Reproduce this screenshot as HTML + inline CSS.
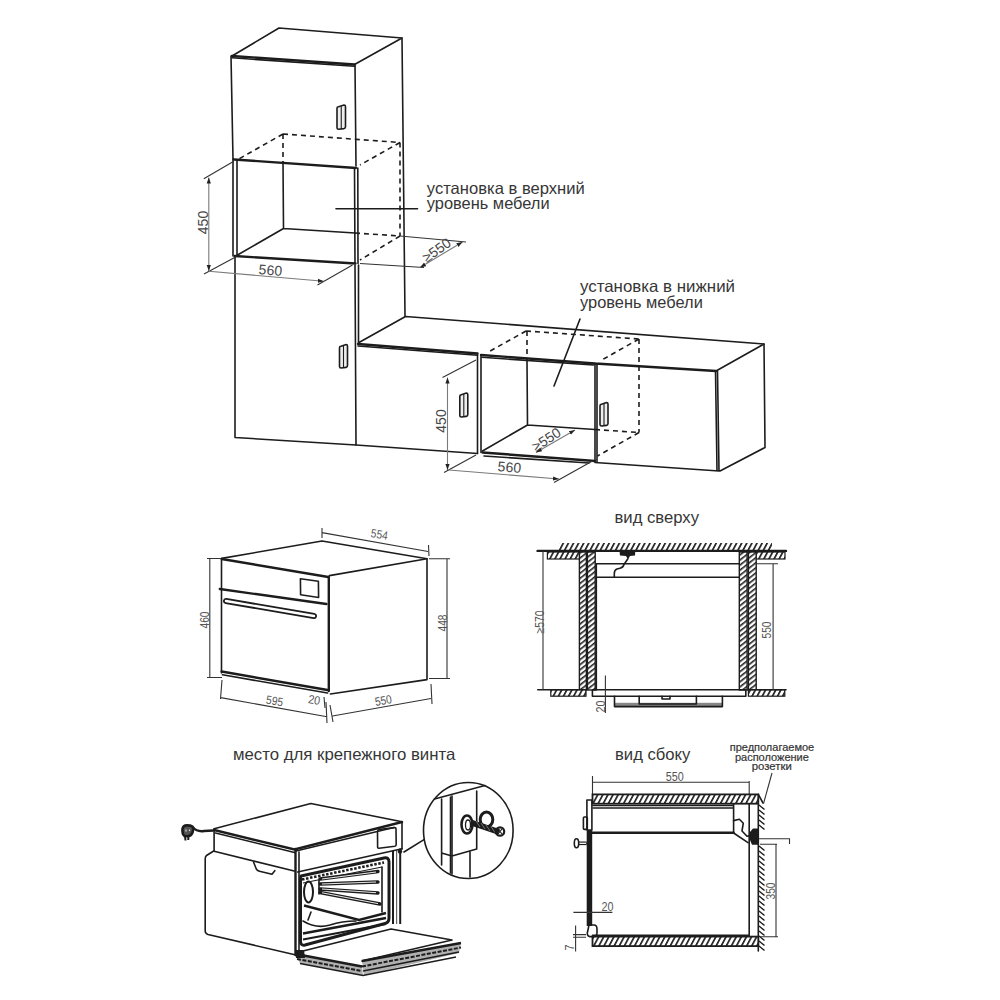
<!DOCTYPE html>
<html><head><meta charset="utf-8">
<style>
html,body{margin:0;padding:0;background:#fff;width:1000px;height:1000px;overflow:hidden}
svg{display:block}
text{font-family:"Liberation Sans",sans-serif;fill:#363636}
.l{stroke:#1c1c1c;stroke-width:1.6;fill:none;stroke-linecap:round;stroke-linejoin:round}
.t{stroke:#1c1c1c;stroke-width:2.4;fill:none;stroke-linecap:round}
.d{stroke:#1c1c1c;stroke-width:1.6;fill:none;stroke-dasharray:5 4}
.m{stroke:#333;stroke-width:1.1;fill:none}
.g{stroke:#7a7a7a;stroke-width:1.1}
.dim{font-size:14px;fill:#474747}
.sd{font-size:12px;fill:#555}
</style></head>
<body>
<svg width="1000" height="1000" viewBox="0 0 1000 1000">
<defs>
<marker id="ar" viewBox="0 0 10 10" refX="10" refY="5" markerWidth="6" markerHeight="6" orient="auto-start-reverse" markerUnits="userSpaceOnUse"><path d="M0,1.5 L10,5 L0,8.5z" fill="#222"/></marker>
<pattern id="hat" patternUnits="userSpaceOnUse" width="4.5" height="10" patternTransform="rotate(28)"><rect width="4.5" height="10" fill="#fff"/><rect width="1.7" height="10" fill="#222"/></pattern><pattern id="hatv" patternUnits="userSpaceOnUse" width="4.0" height="10" patternTransform="rotate(52)"><rect width="4" height="10" fill="#fff"/><rect width="1.6" height="10" fill="#222"/></pattern>
</defs>
<rect width="1000" height="1000" fill="#fff"/>

<!-- ================= TOP: tall cabinet ================= -->
<g id="top">
<!-- upper box top face -->
<path class="l" d="M232,56 L279,28 L402,38 L354.5,64.5"/>
<path class="t" d="M232,56 L354.5,64.5"/>
<path class="l" d="M231,56 L233,159"/>
<path class="l" d="M355,64.5 L356,166" stroke-width="3.6" stroke-linecap="butt"/>
<path class="l" d="M232,57.8 L354.5,66.3" stroke-width="1.4"/>
<path class="l" d="M402,38 L405,316"/>
<path class="t" d="M234,159.5 L356,168"/>
<path d="M338.5,106.8 L344.0,105 Q345.5,105 345.5,106.5 L345.5,126.69999999999999 Q345.5,128.2 344.0,128.6 L338.5,129.2 Q337,129.2 337,127.69999999999999 L337,108.3 Q337,106.8 338.5,106.8 Z" fill="#eee" stroke="#1c1c1c" stroke-width="1.6"/><path d="M341.25,106.2 L341.25,128.89999999999998" stroke="#1c1c1c" stroke-width="1.1"/>
<!-- niche -->
<path class="l" d="M233,159 L233,256 M237,160 L237,255"/>
<path class="l" d="M354.5,168 L355,263.5 M357.8,168 L358,263.5"/>
<path class="d" d="M283,134 L283,162 M283,134 L400,142.5 M283,134 L237,160 M400,142.5 L360,165 M400,142.5 L400,236 M355,233 L400,236 M400,236 L360,260"/>
<path class="l" d="M283,162 L283.5,228.5 L355,233 M283.5,228.5 L237.5,255"/>
<path class="t" d="M234.5,256 L355.5,263.5"/>
<!-- tall lower -->
<path class="l" d="M235,256 L235,437.5 L356,445 L355,265 M358.5,265 L358.5,343"/>
<path d="M341.0,346.3 L346.0,344.5 Q347.5,344.5 347.5,346.0 L347.5,365.5 Q347.5,367 346.0,367.4 L341.0,368 Q339.5,368 339.5,366.5 L339.5,347.8 Q339.5,346.3 341.0,346.3 Z" fill="#eee" stroke="#1c1c1c" stroke-width="1.6"/><path d="M343.5,345.7 L343.5,367.7" stroke="#1c1c1c" stroke-width="1.1"/>
<!-- counter -->
<path class="l" d="M359,342.5 L405.5,316.5 L764,344 L716,371"/>
<path class="t" d="M358,344 L477.5,353.5 M481,355 L595,363.5 M595,363.5 L716,371"/>
<path class="l" d="M358,346 L477.5,355.3" stroke-width="1.4"/>
<path class="l" d="M356,445 L477.5,453.5"/>
<path class="l" d="M482,357.3 L593.5,365" stroke-width="1.3"/>
<path class="l" d="M477.5,354 L477.5,453.5 M481,355 L481,452.5"/>
<path d="M461.3,394.8 L466.3,393 Q467.8,393 467.8,394.5 L467.8,414.5 Q467.8,416 466.3,416.4 L461.3,417 Q459.8,417 459.8,415.5 L459.8,396.3 Q459.8,394.8 461.3,394.8 Z" fill="#eee" stroke="#1c1c1c" stroke-width="1.6"/><path d="M463.8,394.2 L463.8,416.7" stroke="#1c1c1c" stroke-width="1.1"/>
<path class="t" d="M482.5,452.5 L595,461"/>
<path class="l" d="M484,456 L589,463" stroke-width="1.3"/>
<path class="l" d="M595,363.5 L595,462.5 L719,471 L717.5,371 M764,344 L765,447.5 L720,471 M597,364 L597,462 M715.5,371 L717,470.5"/>
<path d="M601.5,404.3 L606.5,402.5 Q608,402.5 608,404.0 L608,423.5 Q608,425 606.5,425.4 L601.5,426 Q600,426 600,424.5 L600,405.8 Q600,404.3 601.5,404.3 Z" fill="#eee" stroke="#1c1c1c" stroke-width="1.6"/><path d="M604.0,403.7 L604.0,425.7" stroke="#1c1c1c" stroke-width="1.1"/>
<!-- lower niche -->
<path class="d" d="M527,331 L527,361 M526,331 L639,339 M526,331 L487.5,352.5 M639,339 L600,361 M639,339 L639,432.5 M639,432.5 L597.5,456 M595,429.5 L639,432.5"/>
<path class="l" d="M527,361 L527.5,425 L595,429.5 M527.5,425 L482.5,451"/>
<!-- leaders -->
<path class="l" d="M336,208.8 L417.5,208.8"/>
<path class="l" d="M580,319 L554,386"/>
<!-- dims upper -->
<path class="m" d="M203.8,178.8 L233.8,161.3 M204,274 L236.5,256.5 M317.5,285 L352.5,265 M360,263.5 L424,267.5 M400,236 L466,242"/>
<path class="m g" marker-start="url(#ar)" marker-end="url(#ar)" d="M208.8,177.5 L208.8,271"/>
<path class="m g" marker-end="url(#ar)" d="M208.8,271.3 L323.8,281.3"/>
<path class="m g" marker-start="url(#ar)" marker-end="url(#ar)" d="M420,267.5 L462.5,242"/>
<text class="dim" transform="translate(207.5,222.5) rotate(-90)" text-anchor="middle">450</text>
<text class="dim" transform="translate(270,275) rotate(5)" text-anchor="middle">560</text>
<text class="dim" transform="translate(439.5,254) rotate(-35)" text-anchor="middle">≥550</text>
<!-- dims lower -->
<path class="m" d="M442.5,377.5 L476,360 M444,472.5 L476,455 M554,482.5 L592.5,461"/>
<path class="m g" marker-start="url(#ar)" marker-end="url(#ar)" d="M447.5,377.5 L447.5,470"/>
<path class="m g" marker-end="url(#ar)" d="M449,470 L559,479"/>
<path class="m g" marker-start="url(#ar)" marker-end="url(#ar)" d="M536,452.5 L575,430"/>
<text class="dim" transform="translate(446,421) rotate(-90)" text-anchor="middle">450</text>
<text class="dim" transform="translate(509,472) rotate(5)" text-anchor="middle">560</text>
<text class="dim" transform="translate(549,443.5) rotate(-33)" text-anchor="middle">≥550</text>
<!-- labels -->
<text x="426.8" y="194.3" font-size="16.5" textLength="158" lengthAdjust="spacingAndGlyphs">установка в верхний</text>
<text x="426.8" y="208.7" font-size="16.5" textLength="122.8" lengthAdjust="spacingAndGlyphs">уровень мебели</text>
<text x="580" y="292.3" font-size="16.5" textLength="155" lengthAdjust="spacingAndGlyphs">установка в нижний</text>
<text x="580" y="307.6" font-size="16.5" textLength="122.8" lengthAdjust="spacingAndGlyphs">уровень мебели</text>
</g>

<!-- ================= OVEN dims view ================= -->
<g id="ovendim">
<path class="l" d="M221.7,558.4 L322,541 L427,558.8 L329.4,575.6"/>
<path class="t" d="M221.7,559 L328.3,577" stroke-width="3.2"/>
<path class="l" d="M221.5,559 L221.5,673"/>
<path class="t" d="M328.8,577 L328.8,691" stroke-width="3.6"/>
<path class="t" d="M219.8,589 L326.4,604" stroke-width="3.6"/>
<path class="l" d="M300.4,578.8 L318.4,581.3 L318.6,597.5 L300.6,594.8 Z" stroke-width="2"/>
<path d="M226,601 L314,616" stroke="#1c1c1c" stroke-width="6" stroke-linecap="round"/>
<path d="M226,601 L314,616" stroke="#fff" stroke-width="2.4" stroke-linecap="round"/>
<path class="t" d="M221.6,671.5 L327.5,690" stroke-width="2.6"/>
<path class="l" d="M222.5,674.8 L327.5,693"/>
<path class="l" d="M427,558.8 L427,679.6 L330.4,694"/>
<!-- dims -->
<path class="m" d="M207,558.5 L221,558.5 M207,677.5 L222,677.5 M209.8,558.5 L209.8,677.5"/>
<path class="m" d="M429,558.8 L450,558.8 M429,678.5 L450,678.5 M447,558.8 L447,678.5"/>
<path class="m" d="M322,528 L322,538 M428.5,545 L429,556 M322,532.6 L428,551.5"/>
<path class="m" d="M222,680 L220.5,699 M326,702 L327,723 M220.8,697.6 L327,716.8"/>
<path class="m" d="M330,705 L333,722 M431,684 L432,704 M332.5,716 L431,698.5"/>
<path class="m" d="M324,697 L325,708"/>
<text class="sd" transform="translate(209,620) rotate(-90)" text-anchor="middle" textLength="17" lengthAdjust="spacingAndGlyphs">460</text>
<text class="sd" transform="translate(447,623) rotate(-90)" text-anchor="middle" textLength="17" lengthAdjust="spacingAndGlyphs">448</text>
<text class="sd" transform="translate(378.7,538.5) rotate(9.5)" text-anchor="middle" textLength="17" lengthAdjust="spacingAndGlyphs">554</text>
<text class="sd" transform="translate(274,705) rotate(9.5)" text-anchor="middle" textLength="17" lengthAdjust="spacingAndGlyphs">595</text>
<text class="sd" transform="translate(313.6,704) rotate(9.5)" text-anchor="middle" textLength="12" lengthAdjust="spacingAndGlyphs">20</text>
<text class="sd" transform="translate(384,704.5) rotate(-10)" text-anchor="middle" textLength="17" lengthAdjust="spacingAndGlyphs">550</text>
</g>

<!-- ================= 3D oven ================= -->
<g id="oven3d">
<text x="233" y="759.9" font-size="16.5" textLength="222.3" lengthAdjust="spacingAndGlyphs">место для крепежного винта</text>
<!-- top face -->
<path class="l" d="M214.1,828.7 L310.8,803.5 L402,821.7"/>
<path class="t" d="M214.1,830 L294.5,849.5 L402,822"/>
<path class="l" d="M215.5,833 L294.5,852.5 M296,851 L394,827.5"/>
<path class="l" d="M214.1,829 L214.1,851.2 L294.2,871"/>
<path class="l" d="M377.5,831.5 Q377.5,829.8 379,829.5 L394.5,827.6 Q396,827.5 396,829 L396.2,844.5 Q396.2,846 394.8,846.3 L379,848.2 Q377.6,848.4 377.6,847 Z" stroke-width="2.4"/>
<!-- body -->
<path class="l" d="M213.7,851 L206.5,855.5 Q205.2,856.5 205.2,859 L205.2,931 Q205.2,933.5 208,934.5 L296,955"/>
<path class="l" d="M253.6,862.3 L256.4,869.3 Q257.5,870.8 259.5,871.3 L272,874.2 L274.8,870.7" stroke-width="1.7"/>
<!-- frame -->
<path class="t" d="M295.5,849 L295.5,955"/>
<path class="l" d="M299,852 L299,956"/>
<path class="l" d="M402,822 L402,849" stroke-width="1.4"/>
<path d="M400.2,848.5 L400.2,924 M393,851 L393,924" stroke="#1c1c1c" stroke-width="2" fill="none"/>
<path d="M396.6,850 L396.6,924" stroke="#666" stroke-width="1.2"/>
<circle cx="400" cy="851.5" r="2.2" fill="#1c1c1c"/>
<path class="l" d="M297.7,872 L402,848.7"/>
<!-- cavity -->
<path d="M301,876 L384,858 Q389,857 389,862 L389,918 Q389,922.5 385,923.5 L305,945 Q300.5,946 300.5,941 L300.5,880 Q300.5,876.5 301,876 Z" stroke="#1c1c1c" stroke-width="3" fill="none"/>
<path d="M302,879.5 L384,862.5" stroke="#1c1c1c" stroke-width="2.6" stroke-dasharray="2.5 1.6" fill="none"/>
<path d="M303,883 L382,867" stroke="#1c1c1c" stroke-width="1.2" fill="none"/>
<path class="l" d="M382,867 L382,912 M319,880 L319,894" stroke-width="1.4"/>
<path d="M320,879 L378,871.5 M320,884 L378,882 M320,889 L378,893 M320,892.5 L380,904" stroke="#1c1c1c" stroke-width="3.4" fill="none" stroke-linecap="round"/>
<path d="M322,879 L376,872 M322,884 L376,882 M322,889 L376,892.7 M322,892.8 L378,903.6" stroke="#fff" stroke-width="0.9" fill="none"/>
<ellipse cx="308.5" cy="892" rx="4.5" ry="10.5" stroke="#1c1c1c" stroke-width="2" fill="none"/>
<path d="M304,905.5 L359,920 L386,913" stroke="#1c1c1c" stroke-width="2.4" fill="none"/>
<path class="l" d="M311,912 L308,920" stroke-width="1.1"/>
<path class="l" d="M303,921 Q316,929 330,925 Q342,921 356,921" stroke-width="1.6"/>
<path d="M303,933.5 L386,918" stroke="#1c1c1c" stroke-width="2.4" fill="none"/>
<path d="M303,939.5 L386,924" stroke="#1c1c1c" stroke-width="2" fill="none"/>
<!-- door -->
<path d="M362,961 L461,943 L459,953 L364,975.5 Z" fill="#b0b0b0"/>
<path d="M295.5,954 L362,966.5 L363,975.5 L300,963.5 Z" fill="#b0b0b0"/>
<path class="l" d="M299,952 L391,929 L452,940 L362,961"/>
<path d="M362,961 L461,943 M295.5,954 L362,966.5" stroke="#1c1c1c" stroke-width="2.6" fill="none"/>
<path d="M362,966.5 L461,947.5 M297,959 L362,971" stroke="#1c1c1c" stroke-width="2" fill="none" stroke-dasharray="4 1.5"/>
<path d="M363,971 L459,952 M300,963.5 L363,975.5 L456,957" stroke="#1c1c1c" stroke-width="1.5" fill="none"/>
<path d="M295,950 L304,950 L305,958 L296,958 Z" fill="#1c1c1c"/>
<!-- plug -->
<path d="M193,827.5 Q197,832 204,831 L213.5,830.5" stroke="#1c1c1c" stroke-width="2.4" fill="none"/>
<path d="M182.5,829 Q183,825.3 187,825.2 L190,825.6 Q193.5,826.5 193.3,829 L192.5,832.5 Q191,836.3 187.5,836.3 L184.5,836 Q182,834 182.5,829 Z" stroke="#1c1c1c" stroke-width="2.6" fill="#555"/>
<path d="M186,829.5 L186,831.5 M189.5,829.5 L189.5,831" stroke="#ddd" stroke-width="1.2"/>
<path d="M185,836 L185.5,840.5 M188.3,836 L188.3,840" stroke="#1c1c1c" stroke-width="2"/>
<!-- detail circle -->
<ellipse class="l" cx="468.3" cy="830.5" rx="44.8" ry="48"/>
<path class="l" d="M424,839.6 L404,852"/>
<path class="l" d="M434.5,799 L485,785.6 M441.6,799 L441.6,865 M452,796 L452,874 M476.7,791 L476.7,849 M441.6,853 L452,856 L476.7,849 M470,852 L470,877"/>
<ellipse cx="467" cy="824.5" rx="5.5" ry="9" stroke="#1c1c1c" stroke-width="2.6" fill="none"/>
<ellipse cx="468" cy="825" rx="2.5" ry="5" stroke="#1c1c1c" stroke-width="1.3" fill="none"/>
<ellipse cx="486.5" cy="819.5" rx="6.3" ry="7.5" stroke="#1c1c1c" stroke-width="3" fill="none"/>
<path d="M471,822.5 L499,832" stroke="#1c1c1c" stroke-width="6"/>
<path d="M476,821 L480,827 M481,823 L485,829 M486,825 L490,831 M491,826.5 L495,832.5" stroke="#777" stroke-width="1"/>
<circle cx="500" cy="831.5" r="4.2" stroke="#1c1c1c" stroke-width="2.2" fill="none"/>
<path d="M498,829 L502,834 M502,829 L498,834" stroke="#1c1c1c" stroke-width="1.2"/>
<path class="l" d="M450.5,797 L450.5,873"/>
</g>

<!-- ================= top view ================= -->
<g id="topview">
<text x="614.5" y="522.9" font-size="16.5" textLength="84.5" lengthAdjust="spacingAndGlyphs">вид сверху</text>
<rect x="559" y="543" width="213" height="8" fill="url(#hat)"/>
<path class="t" d="M537.6,550.9 L786,550.9"/>
<rect x="547.4" y="552" width="38.6" height="7" fill="url(#hat)" stroke="#1c1c1c" stroke-width="1.2"/>
<rect x="746" y="552" width="39" height="7" fill="url(#hat)" stroke="#1c1c1c" stroke-width="1.2"/>
<rect x="579.4" y="552" width="7" height="138" fill="url(#hatv)" stroke="#1c1c1c" stroke-width="1.4"/>
<rect x="587.4" y="552" width="7.8" height="138" fill="url(#hatv)" stroke="#1c1c1c" stroke-width="1.4"/>
<rect x="739.3" y="552" width="7.8" height="138" fill="url(#hatv)" stroke="#1c1c1c" stroke-width="1.4"/>
<rect x="748.4" y="552" width="7.8" height="138" fill="url(#hatv)" stroke="#1c1c1c" stroke-width="1.4"/>
<rect x="550.8" y="689.7" width="35.2" height="6.5" fill="url(#hat)" stroke="#1c1c1c" stroke-width="1.2"/>
<rect x="748.4" y="689.7" width="36.4" height="6.5" fill="url(#hat)" stroke="#1c1c1c" stroke-width="1.2"/>
<path class="l" d="M537.8,689.8 L586,689.8 M748,689.8 L786,689.8"/>
<path class="l" d="M596.3,563.7 L739.3,563.7 M596.3,577.3 L739.3,577.3 M596.3,563.7 L596.3,690"/>
<path d="M619.5,551 L635.3,551 L635,555.5 L630,556 L628,559.5 L626,556 L620,555.5 Z" fill="#1c1c1c"/>
<path class="l" d="M627.7,559 L624,564.5 Q623,567.8 620,568.3 L617,569 Q614.3,570 614.3,573.5 L614.3,577.3" stroke-width="1.4"/>
<rect class="l" x="592.4" y="689.7" width="153.4" height="6.5"/>
<rect x="614.5" y="702.8" width="108" height="3.8" fill="#888"/>
<path class="l" d="M614.5,696.2 L614.5,706.6 L722.4,706.6 L722.4,696.2 M639.2,696.2 L639.2,704 L696.4,704 L696.4,696.2"/>
<path class="l" d="M662,696.2 L662,699 L670,699 L670,696.2" stroke-width="1"/>
<path class="m" d="M543,550.9 L543,689.8 M773.1,563.7 L773.1,689.8 M756.5,563.7 L778,563.7 M605.4,675.4 L605.4,713"/>
<text class="sd" transform="translate(544,622) rotate(-90)" text-anchor="middle" textLength="23" lengthAdjust="spacingAndGlyphs">≥570</text>
<text class="sd" transform="translate(771,630) rotate(-90)" text-anchor="middle" textLength="17" lengthAdjust="spacingAndGlyphs">550</text>
<text class="sd" transform="translate(605,706.6) rotate(-90)" text-anchor="middle" textLength="12" lengthAdjust="spacingAndGlyphs">20</text>
</g>

<!-- ================= side view ================= -->
<g id="sideview">
<text x="615" y="760" font-size="16.5" textLength="75.4" lengthAdjust="spacingAndGlyphs">вид сбоку</text>
<text x="729.7" y="751.2" font-size="11" stroke="#2e2e2e" stroke-width="0.2" textLength="84.5" lengthAdjust="spacingAndGlyphs">предполагаемое</text>
<text x="734.9" y="760.8" font-size="11" stroke="#2e2e2e" stroke-width="0.2" textLength="74" lengthAdjust="spacingAndGlyphs">расположение</text>
<text x="751.8" y="770.2" font-size="11" stroke="#2e2e2e" stroke-width="0.2" textLength="40" lengthAdjust="spacingAndGlyphs">розетки</text>
<path class="m" d="M592.5,782.3 L749.2,782.3 M592.5,776 L592.5,794 M749.2,781 L749.2,794.6"/>
<text class="sd" x="674.8" y="780.5" text-anchor="middle" textLength="18" lengthAdjust="spacingAndGlyphs">550</text>
<rect x="592.5" y="794.4" width="165.8" height="9.3" fill="url(#hat)" stroke="#1c1c1c" stroke-width="1.8"/>
<path class="l" d="M593,805.5 L733.6,805.5 M593,808 L733.6,808 M733.6,804 L733.6,833"/>
<path class="t" d="M592,832.8 L733.6,832.8"/>
<path class="l" d="M733.6,833 L748,842.7 M733.6,820.6 L739.4,819.3 L743.3,823.2 L742,831 L747,836.2 L751,835.6" stroke-width="1.3"/>
<path d="M750,832 L753,828.4 L758.3,828.4 L758.3,844.7 L752,844.7 L750,840 L748.5,836 Z" fill="#1c1c1c"/>
<path class="l" d="M749.2,804 L749.2,935 M758.3,803.7 L758.3,951"/>
<path class="l" d="M758.3,794.4 L763,803" stroke-width="1.2"/>
<path d="M759,805 L764.5,809.5 M759,810 L764.5,814.5 M759,815 L764.5,819.5 M759,820 L764.5,824.5 M759,825 L764.5,829.5 M759,846 L764.5,850.5 M759,851 L764.5,855.5 M759,856 L764.5,860.5 M759,861 L764.5,865.5 M759,866 L764.5,870.5 M759,871 L764.5,875.5 M759,876 L764.5,880.5 M759,881 L764.5,885.5 M759,886 L764.5,890.5 M759,891 L764.5,895.5 M759,896 L764.5,900.5 M759,901 L764.5,905.5 M759,906 L764.5,910.5 M759,911 L764.5,915.5 M759,916 L764.5,920.5 M759,921 L764.5,925.5 M759,926 L764.5,930.5 M759,931 L764.5,935.5 M759,936 L764.5,940.5 M759,941 L764.5,945.5 M759,946 L764.5,950.5" stroke="#1c1c1c" stroke-width="1.3"/>
<rect x="592.5" y="936.6" width="165.8" height="9.5" fill="url(#hat)" stroke="#1c1c1c" stroke-width="1.8"/>
<path class="l" d="M592.5,935.3 L749.2,935.3"/>
<rect x="586.7" y="830" width="5.5" height="96" fill="#1c1c1c"/>
<path class="l" d="M589,925 L594,925 Q597,925 597,929 L597,933 Q597,936.6 593,936.6 L590,936.6 Q587.3,936.6 587.3,933 Z" stroke-width="1.4"/>
<rect class="l" x="586.9" y="800" width="5" height="30" stroke-width="1.2"/>
<rect class="l" x="583.4" y="817" width="3.9" height="12.4" rx="1" stroke-width="1.2"/>
<path d="M578,843.3 L586.7,843.3" stroke="#1c1c1c" stroke-width="3.6"/>
<path d="M579,843.3 L586,843.3" stroke="#fff" stroke-width="1.3"/>
<ellipse cx="576.5" cy="843.3" rx="2.2" ry="4.5" stroke="#1c1c1c" stroke-width="1.6" fill="#fff"/>
<path class="m" d="M573.4,912.4 L612.4,912.4 M575.6,925.5 L575.6,951.5 M573,934.6 L586,934.6 M573,937.2 L586,937.2"/>
<text class="sd" x="607.5" y="911" text-anchor="middle" textLength="12" lengthAdjust="spacingAndGlyphs">20</text>
<text class="sd" transform="translate(573.5,947.6) rotate(-90)" text-anchor="middle" textLength="6" lengthAdjust="spacingAndGlyphs">7</text>
<path class="m" d="M776,844.4 L776,936.7 M760,844.2 L777,844.2 M760,936.7 L778,936.7 M759,838.8 L789.5,838.8 L789.5,844"/>
<text class="sd" transform="translate(774.5,891) rotate(-90)" text-anchor="middle" textLength="17" lengthAdjust="spacingAndGlyphs">350</text>
<path class="m" d="M772,773 L763.5,803.7"/>
</g>

</svg>
</body></html>
